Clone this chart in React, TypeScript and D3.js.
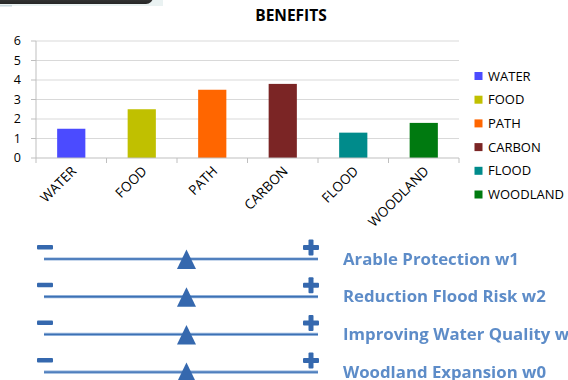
import React from "react";
import * as d3 from "d3";

const categories = ["WATER", "FOOD", "PATH", "CARBON", "FLOOD", "WOODLAND"];
const benefitValues = [1.5, 2.5, 3.5, 3.8, 1.3, 1.8];
const barColors = ["#4B4BFF", "#C0C000", "#FF6600", "#7B2525", "#008B8B", "#007A10"];
const yTicks = [0, 1, 2, 3, 4, 5, 6];

const sliderLabels = [
  "Arable Protection w1",
  "Reduction Flood Risk w2",
  "Improving Water Quality w3",
  "Woodland Expansion w0",
];
const sliderValues = [52, 52, 52, 52];

const W = 568;
const H = 380;
const FONT = "'Open Sans', 'DejaVu Sans', sans-serif";

export default function App() {
  const plotLeft = 36;
  const plotRight = 459;
  const plotTop = 41;
  const plotBottom = 158;

  const x = d3
    .scaleBand<string>()
    .domain(categories)
    .range([plotLeft, plotRight])
    .paddingInner(0.6)
    .paddingOuter(0.3);
  const step = x.step();
  const y = d3.scaleLinear().domain([0, 6]).range([plotBottom, plotTop]);

  const legendY = d3
    .scalePoint<string>()
    .domain(categories)
    .range([76, 194.5]);

  // slider rows
  const sliderX = d3.scaleLinear().domain([0, 100]).range([44, 318]);
  const rowY = d3
    .scalePoint<string>()
    .domain(sliderLabels)
    .range([259, 372.1]);

  const sliderDark = "#3568AE";
  const sliderText = "#5D8CC8";

  return (
    <svg
      width={W}
      height={H}
      viewBox={`0 0 ${W} ${H}`}
      style={{ position: "absolute", left: 0, top: 0, background: "#fff" }}
    >
      <defs>
        <linearGradient id="btn" x1="0" y1="0" x2="0" y2="1">
          <stop offset="0" stopColor="#5a5a5a" />
          <stop offset="1" stopColor="#262626" />
        </linearGradient>
        <filter id="soft" x="-10%" y="-50%" width="120%" height="200%">
          <feGaussianBlur stdDeviation="0.35" />
        </filter>
      </defs>

      {/* top-left button edge */}
      <rect x={0} y={0} width={163} height={6} fill="#EAF2F2" />
      <rect x={-20} y={-14} width={173} height={18} rx={7} fill="url(#btn)" />
      <rect x={0} y={5} width={12} height={1.5} fill="#C9D8DE" />

      {/* title */}
      <text
        x={291}
        y={21}
        textAnchor="middle"
        fontFamily={FONT}
        fontWeight={700}
        fontSize={15.5}
        fill="#000"
      >
        BENEFITS
      </text>

      {/* gridlines */}
      {yTicks.slice(1).map((t) => (
        <line
          key={`g${t}`}
          x1={plotLeft}
          x2={plotRight}
          y1={y(t)}
          y2={y(t)}
          stroke="#D9D9D9"
          strokeWidth={1}
        />
      ))}

      {/* y axis */}
      <line x1={plotLeft} x2={plotLeft} y1={plotTop} y2={plotBottom} stroke="#BFBFBF" />
      {yTicks.map((t) => (
        <g key={`y${t}`}>
          <line x1={plotLeft - 5} x2={plotLeft} y1={y(t)} y2={y(t)} stroke="#BFBFBF" />
          <text
            x={21}
            y={y(t)}
            dy="0.35em"
            textAnchor="end"
            fontFamily={FONT}
            fontSize={12.5}
            fill="#000"
          >
            {t}
          </text>
        </g>
      ))}

      {/* bars */}
      {categories.map((c, i) => (
        <rect
          key={c}
          x={x(c)}
          y={y(benefitValues[i])}
          width={x.bandwidth()}
          height={y(0) - y(benefitValues[i])}
          fill={barColors[i]}
        />
      ))}

      {/* x axis */}
      <line x1={plotLeft} x2={plotRight} y1={plotBottom} y2={plotBottom} stroke="#BFBFBF" />
      {d3.range(categories.length + 1).map((i) => (
        <line
          key={`xt${i}`}
          x1={plotLeft + i * step}
          x2={plotLeft + i * step}
          y1={plotBottom}
          y2={plotBottom + 5}
          stroke="#BFBFBF"
        />
      ))}
      {categories.map((c) => {
        const cx = (x(c) as number) + x.bandwidth() / 2 + 6;
        const cy = plotBottom + 14;
        return (
          <text
            key={`xl${c}`}
            x={cx}
            y={cy}
            transform={`rotate(-45 ${cx} ${cy})`}
            textAnchor="end"
            fontFamily={FONT}
            fontSize={13.5}
            fill="#000"
          >
            {c}
          </text>
        );
      })}

      {/* legend */}
      {categories.map((c, i) => (
        <g key={`lg${c}`}>
          <rect
            x={474.5}
            y={(legendY(c) as number) - 4}
            width={8}
            height={8}
            fill={barColors[i]}
          />
          <text
            x={488}
            y={legendY(c) as number}
            dy="0.36em"
            fontFamily={FONT}
            fontSize={13}
            fill="#000"
          >
            {c}
          </text>
        </g>
      ))}

      {/* weight sliders */}
      {sliderLabels.map((label, i) => {
        const ly = rowY(label) as number;
        const tx = sliderX(sliderValues[i]);
        return (
          <g key={label} filter="url(#soft)">
            <rect x={37} y={ly - 14} width={16} height={4.5} rx={1} fill={sliderDark} />
            <line
              x1={sliderX(0)}
              x2={sliderX(100)}
              y1={ly}
              y2={ly}
              stroke="#8FB0DA"
              strokeWidth={3.2}
            />
            <line
              x1={sliderX(0)}
              x2={sliderX(100)}
              y1={ly}
              y2={ly}
              stroke="#3D71B4"
              strokeWidth={1.4}
            />
            <path
              d={`M${tx},${ly - 9.5} L${tx + 9.5},${ly + 10} L${tx - 9.5},${ly + 10} Z`}
              fill={sliderDark}
            />
            <rect x={303} y={ly - 14} width={16} height={5} rx={1} fill={sliderDark} />
            <rect x={308.5} y={ly - 19.5} width={5} height={16} rx={1} fill={sliderDark} />
            <text
              x={343}
              y={ly + 5.5}
              fontFamily={FONT}
              fontWeight={700}
              fontSize={16.8}
              fill={sliderText}
            >
              {label}
            </text>
          </g>
        );
      })}
    </svg>
  );
}
